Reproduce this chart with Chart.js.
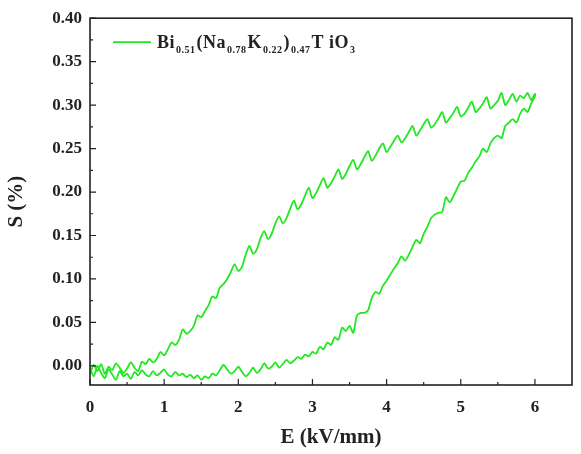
<!DOCTYPE html>
<html>
<head>
<meta charset="utf-8">
<script src="https://cdn.jsdelivr.net/npm/chart.js@4.4.1/dist/chart.umd.min.js"></script>
<style>
  html, body { margin: 0; padding: 0; background: #fff; }
  #chart { display: block; }
</style>
</head>
<body>
<canvas id="chart" width="581" height="454"></canvas>
<script>
// Electric field steps (kV/mm), shared by both branches
const eField = [
  0.00, 0.05, 0.10, 0.15, 0.20, 0.25, 0.30, 0.35, 0.40, 0.45,
  0.50, 0.55, 0.60, 0.65, 0.70, 0.75, 0.80, 0.85, 0.90, 0.95,
  1.00, 1.05, 1.10, 1.15, 1.20, 1.25, 1.30, 1.35, 1.40, 1.45,
  1.50, 1.55, 1.60, 1.65, 1.70, 1.75, 1.80, 1.85, 1.90, 1.95,
  2.00, 2.05, 2.10, 2.15, 2.20, 2.25, 2.30, 2.35, 2.40, 2.45,
  2.50, 2.55, 2.60, 2.65, 2.70, 2.75, 2.80, 2.85, 2.90, 2.95,
  3.00, 3.05, 3.10, 3.15, 3.20, 3.25, 3.30, 3.35, 3.40, 3.45,
  3.50, 3.55, 3.60, 3.65, 3.70, 3.75, 3.80, 3.85, 3.90, 3.95,
  4.00, 4.05, 4.10, 4.15, 4.20, 4.25, 4.30, 4.35, 4.40, 4.45,
  4.50, 4.55, 4.60, 4.65, 4.70, 4.75, 4.80, 4.85, 4.90, 4.95,
  5.00, 5.05, 5.10, 5.15, 5.20, 5.25, 5.30, 5.35, 5.40, 5.45,
  5.50, 5.55, 5.60, 5.65, 5.70, 5.75, 5.80, 5.85, 5.90, 5.95,
  6.00
];

// Strain (%) on the rising-field branch (lower curve)
const strainUp = [
  -0.002, -0.012, 0.000, -0.008, -0.014, -0.004, -0.010, -0.016, -0.006, -0.012,
  -0.009, -0.015, -0.007, -0.011, -0.005, -0.010, -0.012, -0.006, -0.011, -0.008,
  -0.004, -0.010, -0.012, -0.007, -0.011, -0.009, -0.013, -0.010, -0.014, -0.011,
  -0.016, -0.012, -0.014, -0.009, -0.011, -0.005, 0.001, -0.004, -0.009, -0.006,
  -0.001, -0.007, -0.012, -0.008, -0.002, -0.008, -0.004, 0.003, -0.003, -0.001,
  0.004, -0.002, 0.002, 0.007, 0.003, 0.006, 0.010, 0.008, 0.013, 0.011,
  0.016, 0.014, 0.022, 0.019, 0.027, 0.024, 0.033, 0.030, 0.044, 0.040,
  0.046, 0.038, 0.058, 0.061, 0.061, 0.064, 0.078, 0.085, 0.083, 0.092,
  0.098, 0.105, 0.112, 0.118, 0.126, 0.121, 0.128, 0.137, 0.145, 0.141,
  0.152, 0.160, 0.170, 0.174, 0.176, 0.177, 0.194, 0.188, 0.195, 0.204,
  0.212, 0.213, 0.222, 0.228, 0.235, 0.241, 0.250, 0.246, 0.256, 0.262,
  0.265, 0.262, 0.276, 0.280, 0.284, 0.280, 0.290, 0.296, 0.292, 0.302,
  0.310
];

// Strain (%) on the falling-field branch (upper curve), listed by rising E
const strainDown = [
  -0.010, 0.001, -0.006, 0.002, -0.009, -0.001, -0.005, 0.003, -0.002, -0.008,
  -0.003, 0.004, -0.002, -0.006, 0.005, 0.002, 0.008, 0.004, 0.008, 0.016,
  0.012, 0.019, 0.027, 0.024, 0.030, 0.042, 0.037, 0.040, 0.046, 0.058,
  0.056, 0.063, 0.070, 0.080, 0.078, 0.090, 0.094, 0.100, 0.108, 0.117,
  0.109, 0.114, 0.128, 0.138, 0.129, 0.134, 0.147, 0.155, 0.146, 0.152,
  0.164, 0.172, 0.164, 0.170, 0.181, 0.190, 0.180, 0.186, 0.196, 0.205,
  0.193, 0.199, 0.208, 0.216, 0.205, 0.210, 0.218, 0.226, 0.215, 0.221,
  0.230, 0.237, 0.226, 0.232, 0.240, 0.247, 0.236, 0.242, 0.250, 0.256,
  0.246, 0.252, 0.259, 0.265, 0.257, 0.262, 0.269, 0.276, 0.265, 0.271,
  0.278, 0.284, 0.274, 0.278, 0.285, 0.292, 0.280, 0.285, 0.291, 0.298,
  0.287, 0.290, 0.297, 0.304, 0.292, 0.296, 0.302, 0.309, 0.296, 0.300,
  0.305, 0.314, 0.300, 0.306, 0.313, 0.304, 0.311, 0.308, 0.314, 0.306,
  0.313
];

const xTicks = [0, 1, 2, 3, 4, 5, 6];
const yTicks = [0.00, 0.05, 0.10, 0.15, 0.20, 0.25, 0.30, 0.35, 0.40];
const xMinorTicks = [0.5, 1.5, 2.5, 3.5, 4.5, 5.5];
const yMinorTicks = [0.025, 0.075, 0.125, 0.175, 0.225, 0.275, 0.325, 0.375];

const lineColor = "#22e822";
const serif = "'Liberation Serif', 'Times New Roman', serif";

// Build the loop: rising branch forward, then falling branch back to zero
const loopPoints = [];
eField.forEach((e, i) => loopPoints.push({ x: e, y: strainUp[i] }));
for (let i = eField.length - 1; i >= 0; i--) {
  loopPoints.push({ x: eField[i], y: strainDown[i] });
}

// Frame around the plot plus inward tick marks
const framePlugin = {
  id: "frame",
  afterDatasetsDraw(chart) {
    const { ctx, chartArea: a, scales } = chart;
    ctx.save();
    ctx.strokeStyle = "#222";
    ctx.lineWidth = 1.6;
    ctx.strokeRect(a.left, a.top, a.right - a.left, a.bottom - a.top);

    ctx.lineWidth = 1.2;
    ctx.beginPath();
    xTicks.forEach(v => {
      const px = scales.x.getPixelForValue(v);
      ctx.moveTo(px, a.bottom);
      ctx.lineTo(px, a.bottom - 6);
    });
    xMinorTicks.forEach(v => {
      const px = scales.x.getPixelForValue(v);
      ctx.moveTo(px, a.bottom);
      ctx.lineTo(px, a.bottom - 3);
    });
    yTicks.forEach(v => {
      const py = scales.y.getPixelForValue(v);
      ctx.moveTo(a.left, py);
      ctx.lineTo(a.left + 6, py);
    });
    yMinorTicks.forEach(v => {
      const py = scales.y.getPixelForValue(v);
      ctx.moveTo(a.left, py);
      ctx.lineTo(a.left + 3, py);
    });
    ctx.stroke();
    ctx.restore();
  }
};

// Legend with chemical formula subscripts
const formulaLegend = {
  id: "formulaLegend",
  afterDraw(chart) {
    const { ctx, chartArea: a } = chart;
    const parts = [
      ["Bi", false], ["0.51", true], ["(Na", false], ["0.78", true],
      ["K", false], ["0.22", true], [")", false], ["0.47", true],
      ["T iO", false], ["3", true]
    ];
    const lineY = a.top + 24;
    ctx.save();
    ctx.strokeStyle = lineColor;
    ctx.lineWidth = 1.8;
    ctx.beginPath();
    ctx.moveTo(a.left + 23, lineY);
    ctx.lineTo(a.left + 61, lineY);
    ctx.stroke();

    ctx.fillStyle = "#222";
    ctx.textBaseline = "alphabetic";
    ctx.letterSpacing = "0.5px";
    let x = a.left + 67;
    const base = lineY + 6;
    parts.forEach(([text, sub]) => {
      ctx.font = sub ? `bold 10px ${serif}` : `bold 18px ${serif}`;
      ctx.fillText(text, x, sub ? base + 5 : base);
      x += ctx.measureText(text).width + 1;
    });
    ctx.restore();
  }
};

const ctx = document.getElementById("chart").getContext("2d");
new Chart(ctx, {
  type: "scatter",
  data: {
    datasets: [{
      label: "Bi0.51(Na0.78K0.22)0.47TiO3",
      data: loopPoints,
      showLine: true,
      borderColor: lineColor,
      borderWidth: 1.8,
      pointRadius: 0,
      tension: 0.25
    }]
  },
  options: {
    responsive: false,
    animation: false,
    layout: { padding: { top: 17, right: 9, left: 0, bottom: 0 } },
    plugins: {
      legend: { display: false },
      tooltip: { enabled: false }
    },
    scales: {
      x: {
        type: "linear",
        min: 0,
        max: 6.5,
        afterBuildTicks: scale => { scale.ticks = xTicks.map(v => ({ value: v })); },
        afterFit: scale => { scale.height = 69; },
        grid: { display: false, drawTicks: false },
        border: { display: false },
        ticks: {
          padding: 12,
          color: "#222",
          font: { family: serif, size: 17, weight: "bold" },
          callback: v => String(v)
        },
        title: {
          display: true,
          text: "E (kV/mm)",
          color: "#222",
          font: { family: serif, size: 21, weight: "bold" },
          padding: { top: 0, bottom: 4 }
        }
      },
      y: {
        type: "linear",
        min: -0.022,
        max: 0.40,
        afterBuildTicks: scale => { scale.ticks = yTicks.map(v => ({ value: v })); },
        afterFit: scale => { scale.width = 90; },
        grid: { display: false, drawTicks: false },
        border: { display: false },
        ticks: {
          padding: 8,
          color: "#222",
          font: { family: serif, size: 17, weight: "bold" },
          callback: v => v.toFixed(2)
        },
        title: {
          display: true,
          text: "S (%)",
          color: "#222",
          font: { family: serif, size: 21, weight: "bold" },
          padding: { top: 4, bottom: 0 }
        }
      }
    }
  },
  plugins: [framePlugin, formulaLegend]
});
</script>
</body>
</html>
